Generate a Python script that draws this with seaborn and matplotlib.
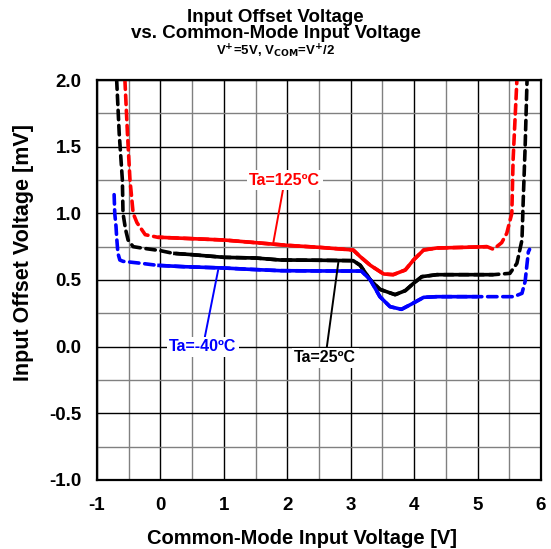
import matplotlib
matplotlib.use("Agg")
import matplotlib.pyplot as plt
from matplotlib.ticker import MultipleLocator, FormatStrFormatter
import pandas as pd
import seaborn as sns

# Ta = 125 C
red_x = [-0.56, -0.52, -0.48, -0.43, -0.37, -0.24, -0.04, 0.0, 0.5, 1.0, 1.5, 2.0, 2.5, 3.04,
         3.15, 3.31, 3.52, 3.67, 3.86, 3.99, 4.15, 4.36, 4.8, 5.15, 5.25, 5.38, 5.46, 5.54, 5.56, 5.62]
red_y = [2.0, 1.6, 1.25, 1.0, 0.93, 0.84, 0.82, 0.82, 0.81, 0.80, 0.78, 0.76, 0.745, 0.725,
         0.675, 0.61, 0.545, 0.54, 0.575, 0.65, 0.725, 0.74, 0.745, 0.75, 0.73, 0.78, 0.85, 1.0, 1.4, 2.0]

# Ta = 25 C
black_x = [-0.69, -0.65, -0.60, -0.59, -0.55, -0.51, -0.43, -0.3, 0.0, 0.2, 0.5, 1.0, 1.5, 1.89, 2.5, 3.04,
           3.15, 3.31, 3.46, 3.70, 3.86, 3.99, 4.12, 4.36, 5.0, 5.25, 5.51, 5.62, 5.70, 5.72, 5.75, 5.78]
black_y = [2.0, 1.6, 1.25, 1.0, 0.88, 0.8, 0.75, 0.74, 0.72, 0.70, 0.69, 0.67, 0.665, 0.65, 0.648, 0.645,
           0.61, 0.50, 0.43, 0.39, 0.42, 0.475, 0.525, 0.54, 0.54, 0.54, 0.55, 0.625, 0.80, 1.1, 1.5, 2.0]

# Ta = -40 C
blue_x = [-0.73, -0.72, -0.70, -0.69, -0.67, -0.64, -0.59, -0.3, -0.05, 0.36, 1.0, 1.41, 1.89, 2.5, 3.17,
          3.31, 3.46, 3.62, 3.80, 3.96, 4.15, 4.36, 5.0, 5.57, 5.70, 5.75, 5.80, 5.82]
blue_y = [1.14, 1.0, 0.9, 0.82, 0.70, 0.65, 0.64, 0.625, 0.61, 0.60, 0.59, 0.58, 0.57, 0.568, 0.567,
          0.50, 0.375, 0.30, 0.28, 0.32, 0.37, 0.375, 0.375, 0.375, 0.40, 0.49, 0.71, 0.73]

labels = ["Ta=125ºC", "Ta=25ºC", "Ta=-40ºC"]
colors = ["#ff0000", "#000000", "#0000ff"]
solid_range = [(-0.04, 5.15), (0.2, 5.25), (-0.05, 5.0)]

# label position, leader tip
label_pos = [(1.96, 1.25), (2.6, -0.085), (0.67, 0.0)]
label_tip = [(1.78, 0.78), (2.81, 0.65), (0.91, 0.575)]

sns.set_theme(style="white")
plt.rcParams["font.family"] = ["Liberation Sans", "DejaVu Sans"]
plt.rcParams["font.weight"] = "bold"
plt.rcParams["axes.unicode_minus"] = False
plt.rcParams["text.color"] = "black"
plt.rcParams["xtick.color"] = "black"
plt.rcParams["ytick.color"] = "black"

fig = plt.figure(figsize=(5.51, 5.49), dpi=100)
ax = fig.add_axes([97 / 551, 1 - 480 / 549, 444 / 551, 400 / 549])

curves = [(red_x, red_y), (black_x, black_y), (blue_x, blue_y)]
for (xs, ys), name, c, (lo, hi) in zip(curves, labels, colors, solid_range):
    df = pd.DataFrame({"x": xs, "y": ys})
    sns.lineplot(data=df, x="x", y="y", sort=False, estimator=None, color=c, lw=2.6,
                 linestyle=(0, (2.6, 1.6)), dash_capstyle="round", ax=ax, zorder=3)
    mid = df[(df["x"] >= lo) & (df["x"] <= hi)]
    sns.lineplot(data=mid, x="x", y="y", sort=False, estimator=None, color=c, lw=2.6,
                 solid_capstyle="butt", ax=ax, zorder=4)

for name, c, pos, tip in zip(labels, colors, label_pos, label_tip):
    ax.annotate(name, xy=tip, xytext=pos, ha="center", va="center", color=c,
                fontsize=11.5, fontweight="bold", zorder=5,
                bbox=dict(boxstyle="square,pad=0.15", fc="white", ec="none"),
                arrowprops=dict(arrowstyle="-", color=c, lw=1.4, shrinkA=0, shrinkB=0))

ax.set_xlim(-1, 6)
ax.set_ylim(-1, 2)
ax.xaxis.set_major_locator(MultipleLocator(1))
ax.xaxis.set_minor_locator(MultipleLocator(0.5))
ax.yaxis.set_major_locator(MultipleLocator(0.5))
ax.yaxis.set_minor_locator(MultipleLocator(0.25))
ax.yaxis.set_major_formatter(FormatStrFormatter("%.1f"))
ax.grid(True, which="major", color="#000000", lw=1.0, zorder=1)
ax.grid(True, which="minor", color="#808080", lw=1.0, zorder=1)
ax.set_axisbelow(True)
ax.tick_params(which="both", length=0, labelsize=13.5)
ax.tick_params(axis="x", pad=12)
ax.tick_params(axis="y", pad=11)
for t in ax.get_xticklabels() + ax.get_yticklabels():
    t.set_fontweight("bold")
for s in ax.spines.values():
    s.set_color("black")
    s.set_linewidth(1.6)
    s.set_zorder(6)
ax.set_xlabel("")
ax.set_ylabel("")

fig.text(302 / 551, 1 - 538 / 549, "Common-Mode Input Voltage [V]", ha="center", va="center",
         fontsize=14.5, fontweight="bold")
fig.text(24 / 551, 1 - 252 / 549, "Input Offset Voltage [mV]", ha="center", va="center",
         rotation=90, fontsize=15.5, fontweight="bold")
fig.text(0.5, 1 - 21.5 / 549, "Input Offset Voltage", ha="center", va="baseline",
         fontsize=13.5, fontweight="bold")
fig.text(0.5, 1 - 37.5 / 549, "vs. Common-Mode Input Voltage", ha="center", va="baseline",
         fontsize=13.5, fontweight="bold")
fig.text(0.5, 1 - 55.5 / 549, r"V$^{\mathbf{+}}$=5V, V$_{\mathbf{COM}}$=V$^{\mathbf{+}}$/2",
         ha="center", va="baseline", fontsize=9.5, fontweight="bold")

fig.savefig("out.png", dpi=100)
